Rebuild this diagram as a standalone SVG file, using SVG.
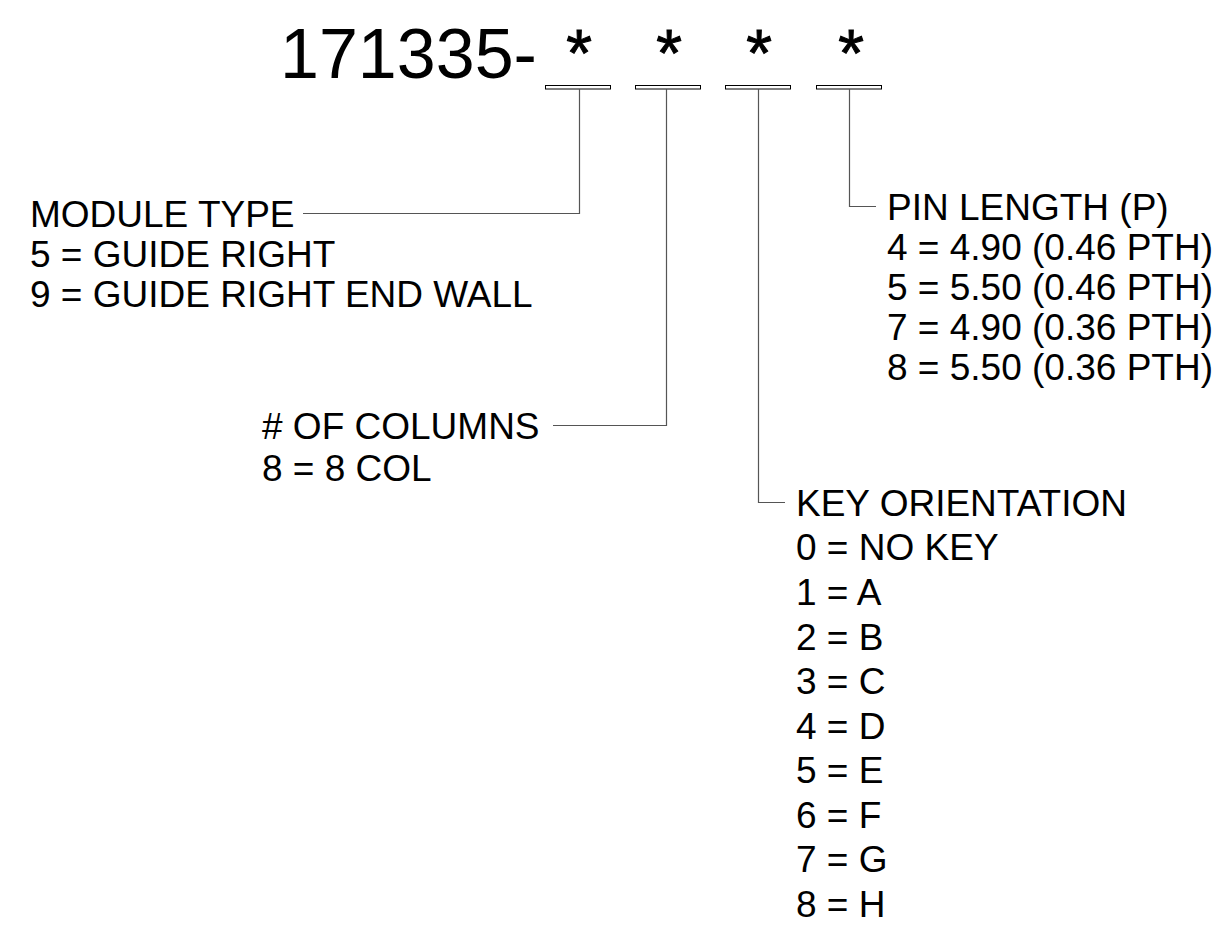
<svg xmlns="http://www.w3.org/2000/svg" width="1226" height="947" viewBox="0 0 1226 947">
<style>
text{font-family:"Liberation Sans",Arial,sans-serif;fill:#000}
.t{font-size:37px}
.title{font-size:70px}
.ast{font-size:66px;stroke:#000;stroke-width:1}
.bar{fill:#fff;stroke:#000;stroke-width:1}
.conn{fill:none;stroke:#555;stroke-width:1.2}
</style>
<rect width="1226" height="947" fill="#fff"/>
<g id="title">
<text class="title" x="280" y="78">171335-</text>
<text class="ast" x="579" y="76" text-anchor="middle">*</text>
<text class="ast" x="669" y="76" text-anchor="middle">*</text>
<text class="ast" x="759" y="76" text-anchor="middle">*</text>
<text class="ast" x="851" y="76" text-anchor="middle">*</text>
<rect class="bar" x="545.5" y="85.5" width="65" height="3.5"/>
<rect class="bar" x="635.5" y="85.5" width="65" height="3.5"/>
<rect class="bar" x="725.5" y="85.5" width="65" height="3.5"/>
<rect class="bar" x="816.5" y="85.5" width="65" height="3.5"/>
</g>
<g id="connectors">
<path class="conn" d="M579.5,89 V213.5 H303"/>
<path class="conn" d="M666.5,89 V425.5 H553"/>
<path class="conn" d="M758.5,89 V502.5 H785"/>
<path class="conn" d="M849.5,89 V206.5 H876"/>
</g>
<g id="module-type">
<text class="t" x="30" y="227">MODULE TYPE</text>
<text class="t" x="30" y="267">5 = GUIDE RIGHT</text>
<text class="t" x="30" y="307">9 = GUIDE RIGHT END WALL</text>
</g>
<g id="columns">
<text class="t" x="262" y="439"># OF COLUMNS</text>
<text class="t" x="262" y="481">8 = 8 COL</text>
</g>
<g id="pin-length">
<text class="t" x="887" y="220">PIN LENGTH (P)</text>
<text class="t" x="887" y="260">4 = 4.90 (0.46 PTH)</text>
<text class="t" x="887" y="300">5 = 5.50 (0.46 PTH)</text>
<text class="t" x="887" y="340">7 = 4.90 (0.36 PTH)</text>
<text class="t" x="887" y="380">8 = 5.50 (0.36 PTH)</text>
</g>
<g id="key-orientation">
<text class="t" x="796" y="516">KEY ORIENTATION</text>
<text class="t" x="796" y="560">0 = NO KEY</text>
<text class="t" x="796" y="605">1 = A</text>
<text class="t" x="796" y="650">2 = B</text>
<text class="t" x="796" y="694">3 = C</text>
<text class="t" x="796" y="739">4 = D</text>
<text class="t" x="796" y="783">5 = E</text>
<text class="t" x="796" y="828">6 = F</text>
<text class="t" x="796" y="872">7 = G</text>
<text class="t" x="796" y="917">8 = H</text>
</g>
</svg>
